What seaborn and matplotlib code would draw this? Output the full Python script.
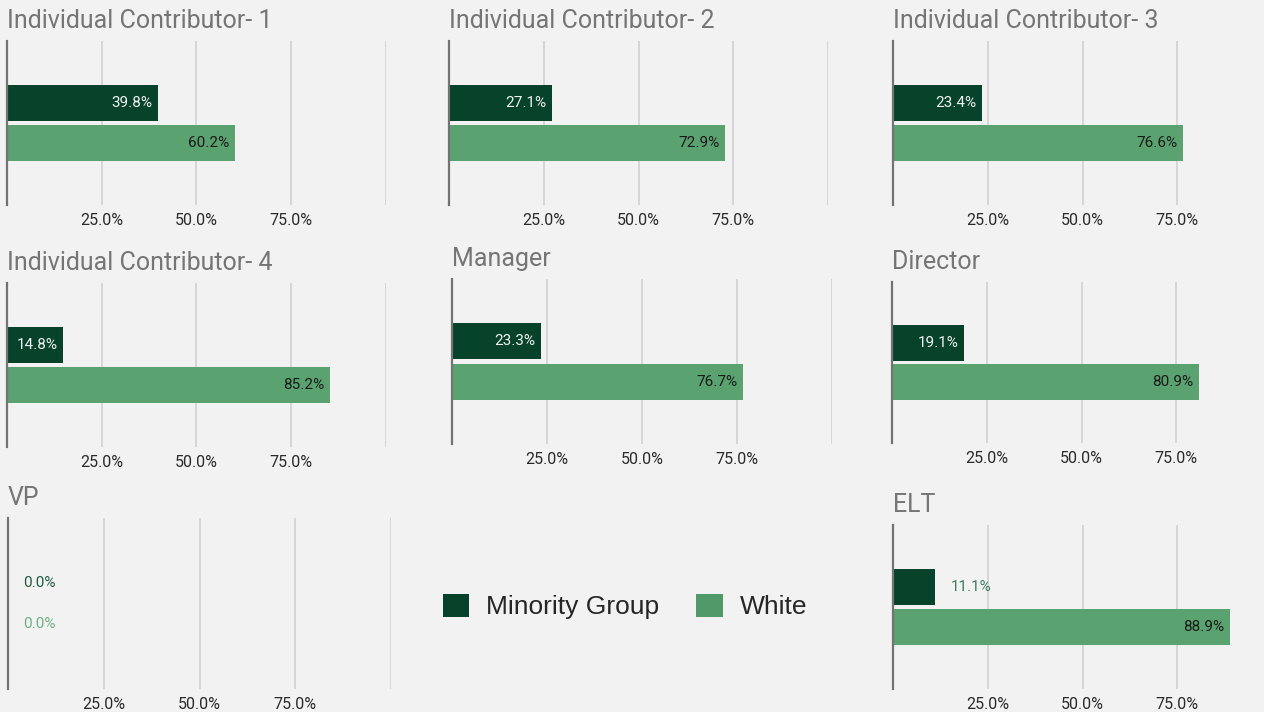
import matplotlib
matplotlib.use("Agg")
import matplotlib.pyplot as plt
from matplotlib.patches import Patch
import seaborn as sns
import pandas as pd

# ---- data ----
panel_titles = ["Individual Contributor- 1", "Individual Contributor- 2", "Individual Contributor- 3",
                "Individual Contributor- 4", "Manager", "Director", "VP", "ELT"]
minority_pct = [39.8, 27.1, 23.4, 14.8, 23.3, 19.1, 0.0, 11.1]
white_pct = [60.2, 72.9, 76.6, 85.2, 76.7, 80.9, 0.0, 88.9]
groups = ["Minority Group", "White"]
tick_values = [0.25, 0.50, 0.75, 1.00]
tick_labels = ["25.0%", "50.0%", "75.0%", ""]

DARK = "#06432a"
LIGHT = "#5aa26f"
BG = "#f2f2f2"

sns.set_theme(style="white")
plt.rcParams["font.family"] = ["Roboto", "DejaVu Sans"]

W, H = 1264, 712
fig = plt.figure(figsize=(W / 100, H / 100), dpi=100, facecolor=BG)

# axes boxes in pixels: left, top, width, bottom
boxes = [
    (7, 41, 379, 205), (449, 41, 379, 205), (893, 41, 379, 205),
    (7, 283, 379, 447), (452, 279, 380, 444), (892, 282, 379, 443),
    (8, 518, 383, 689), (893, 525, 379, 689),
]

for i, (title, mv, wv) in enumerate(zip(panel_titles, minority_pct, white_pct)):
    l, t, w, b = boxes[i]
    ax = fig.add_axes([l / W, 1 - b / H, w / W, (b - t) / H])
    ax.set_facecolor(BG)
    df = pd.DataFrame({"group": groups, "value": [mv / 100, wv / 100]})
    sns.barplot(data=df, x="value", y="group", hue="group", order=groups, hue_order=groups,
                palette={"Minority Group": DARK, "White": LIGHT}, orient="h", width=0.9,
                ax=ax, legend=False, saturation=1, edgecolor="none")
    ax.set_xlim(0, 1.0)
    ax.set_ylim(2.55, -1.55)
    ax.set_xticks(tick_values)
    ax.set_xticklabels(tick_labels, fontsize=11.5, color="#2a2a2a")
    ax.tick_params(axis="x", length=0, pad=6)
    ax.set_yticks([])
    ax.set_xlabel("")
    ax.set_ylabel("")
    ax.grid(axis="x", color="#d4d4d4", linewidth=1.3)
    ax.set_axisbelow(True)
    for s in ["top", "right", "bottom"]:
        ax.spines[s].set_visible(False)
    ax.spines["left"].set_color("#737373")
    ax.spines["left"].set_linewidth(1.6)
    ax.spines["left"].set_zorder(5)

    vals = [mv / 100, wv / 100]
    for j, v in enumerate(vals):
        txt = f"{v * 100:.1f}%"
        if v == 0:
            ax.annotate(txt, (0, j), xytext=(11, 0), textcoords="offset points", ha="left",
                        va="center", fontsize=11, color=["#1f5b3d", "#6bb382"][j])
        elif v < 0.13:
            ax.annotate(txt, (v, j), xytext=(11, 0), textcoords="offset points", ha="left",
                        va="center", fontsize=11, color="#3d7d5a")
        else:
            ax.annotate(txt, (v, j), xytext=(-4, 0), textcoords="offset points", ha="right",
                        va="center", fontsize=11, color=["#f2f2f2", "#1a1a1a"][j])
    ax.set_title(title, loc="left", fontsize=18, color="#757575", pad=9.5)

handles = [Patch(facecolor=DARK, edgecolor="none"), Patch(facecolor="#4f9a68", edgecolor="none")]
fig.legend(handles, groups, loc="center", bbox_to_anchor=(625 / W, 1 - 606.5 / H), ncol=2,
           frameon=False, handlelength=1.0, handleheight=1.0,
           handletextpad=0.65, columnspacing=1.4,
           prop={"family": ["Liberation Sans", "DejaVu Sans"], "size": 19})

fig.savefig("out.png", dpi=100, facecolor=BG)
